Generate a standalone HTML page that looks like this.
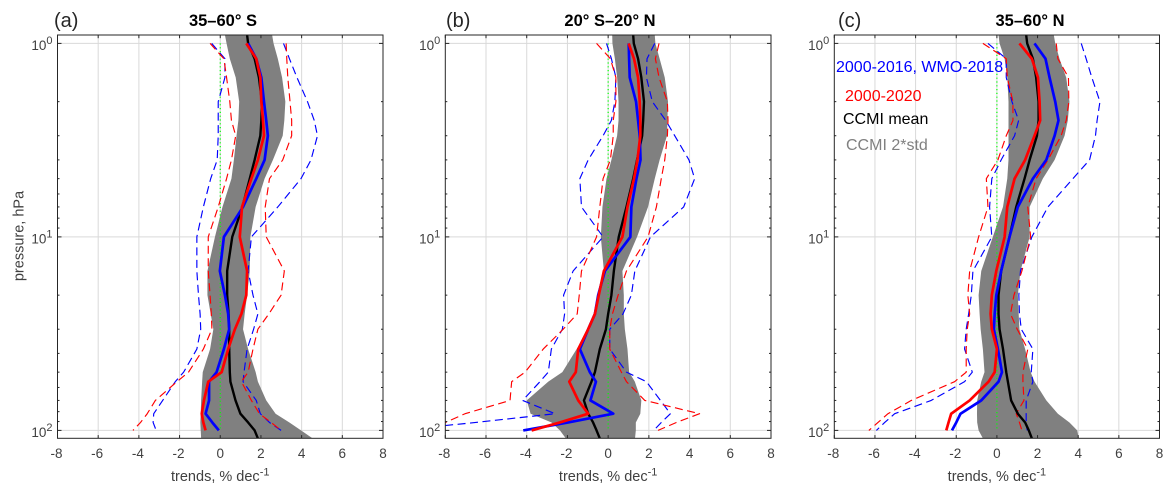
<!DOCTYPE html>
<html lang="en">
<head>
<meta charset="utf-8">
<title>Ozone trend profiles</title>
<style>
html,body{margin:0;padding:0;background:#fff;width:1175px;height:496px;overflow:hidden}
svg{display:block;font-family:"Liberation Sans",sans-serif}
</style>
</head>
<body>
<svg id="chart" xmlns="http://www.w3.org/2000/svg" width="1175" height="496" viewBox="0 0 1175 496"></svg>
<script>
// Shared axis values
const levels = [1,1.2,1.5,2,2.5,3,4,5,7,10,15,20,25,30,38,50,56,70,82,91,100];
const bandLevels = [0.905,1,1.2,1.5,2,2.5,3,4,5,7,10,15,20,25,30,38,50,56,70,82,91,100,110];
const xTicks = [-8,-6,-4,-2,0,2,4,6,8];
const yTickExponents = [0,1,2];
const zeroLine = [0,0];
const zeroLineLevels = [1,100];

// Panel (a) 35-60 S
const aBandLow = [.23,.31,.47,.76,.93,.89,.80,.67,.55,.11,-.26,-.63,-.63,-.47,-.34,-.50,-.86,-.89,-.94,-.96,-.98,-.96,-.94];
const aBandHigh = [2.55,2.62,2.83,3.04,3.20,3.15,3.07,2.59,2.18,1.74,1.48,1.45,1.32,1.20,1.12,1.37,1.74,1.85,2.26,2.72,3.40,3.97,4.54];
const aMean = [1.32,1.37,1.69,1.90,2.05,2.02,1.97,1.69,1.45,1.09,.59,.34,.34,.41,.44,.44,.47,.50,.75,.99,1.37,1.69,1.85];
const aRed = [1.28,1.77,1.97,2.02,2.10,2.15,1.85,1.53,1.07,.96,1.32,1.28,1.04,.72,.39,.07,-.59,-.80,-.91,-.83,-.72];
const aBlue = [1.37,1.77,2.02,2.15,2.26,2.34,2.18,1.77,1.12,.18,-.02,.23,.39,.44,.18,-.18,-.55,-.55,-.72,-.39,-.07];
const aRedLow = [-.50,.18,.31,.47,.55,.76,.55,.31,-.10,-.59,-.59,-.50,-.44,-.41,-.83,-1.56,-2.13,-3.19,-3.59,-3.92,-4.29];
const aRedHigh = [3.24,3.27,3.32,3.43,3.51,3.51,3.07,2.42,2.21,2.26,3.15,2.99,2.39,1.85,1.61,1.37,1.04,1.53,1.93,2.50,2.99];
const aBlueLow = [-.42,.23,.23,-.10,-.10,-.10,-.15,-.47,-.83,-1.15,-1.15,-1.07,-.99,-.96,-1.15,-1.80,-2.21,-2.83,-3.27,-3.30,-3.15];
const aBlueHigh = [3.11,3.40,3.77,4.29,4.62,4.78,4.46,3.97,2.83,1.53,1.37,1.61,1.85,1.64,1.32,1.17,1.12,1.77,1.97,2.42,2.99];

// Panel (b) 20 S-20 N
const bBandLow = [.20,.21,.33,.44,.51,.51,.44,.16,-.08,-.28,-.36,-.21,-.49,-.70,-.90,-1.55,-2.25,-2.94,-4.0,-3.81,-2.78,-2.37,-2.08];
const bBandHigh = [2.29,2.32,2.53,2.78,2.94,2.91,2.89,2.53,2.29,1.96,1.42,.70,.77,.77,.82,.95,1.03,1.31,1.63,1.58,1.36,1.36,1.32];
const bMean = [1.23,1.26,1.47,1.63,1.76,1.72,1.67,1.42,1.23,.90,.52,.28,.16,0,-.11,-.41,-.65,-.82,-1.19,-.98,-.74,-.57,-.41];
const bRed = [1.01,1.27,1.47,1.55,1.58,1.58,1.44,1.27,.95,.70,-.21,-.46,-.65,-.98,-1.47,-1.59,-1.91,-1.47,-.98,-2.37,-3.76];
const bBlue = [1.01,1.03,1.06,1.37,1.47,1.55,1.59,1.39,1.14,1.09,-.16,-.49,-.65,-.98,-1.39,-.90,-.60,-.87,.25,-1.96,-4.17];
const bRedLow = [-.57,.11,.38,.38,.25,.25,.11,-.25,-.41,-.57,-1.31,-1.42,-1.52,-2.21,-3.19,-4.08,-4.74,-4.82,-7.03,-8.0,-9.5];
const bRedHigh = [2.50,2.32,2.50,2.91,2.94,2.91,2.78,2.61,2.37,1.96,.90,.49,.21,.08,.08,.65,.90,1.80,4.49,3.35,2.45];
const bBlueLow = [-.08,.16,.38,.33,.16,-.25,-.98,-1.39,-1.31,-.25,-1.72,-2.19,-2.14,-2.25,-2.79,-2.94,-3.35,-4.20,-2.61,-6.5,-10.4];
const bBlueHigh = [2.29,1.91,1.88,2.17,2.83,3.27,3.97,4.25,3.71,2.08,1.31,1.14,.73,.08,.08,.90,1.88,2.57,3.06,2.61,2.24];

// Panel (c) 35-60 N
const cBandLow = [.08,.13,.38,.51,.57,.57,.57,.57,.51,.30,-.20,-.77,-.90,-.85,-.80,-.69,-.61,-.77,-.97,-.98,-.97,-.90,-.69];
const cBandHigh = [2.80,2.87,3.08,3.41,3.57,3.49,3.33,2.84,2.26,1.61,1.61,1.16,1.03,1.07,1.11,1.39,1.66,1.85,2.43,3.0,3.57,3.95,4.03];
const cMean = [1.44,1.49,1.77,1.93,2.05,2.05,1.97,1.61,1.36,.95,.62,.21,.08,.08,.13,.30,.46,.54,.70,1.03,1.39,1.57,1.72];
const cRed = [1.11,1.72,2.02,2.10,2.13,1.85,1.39,.87,.51,.38,-.03,-.25,-.31,-.25,0,-.11,-.41,-1.34,-2.25,-2.38,-2.49];
const cBlue = [1.85,2.39,2.59,2.87,3.03,2.84,2.43,1.77,1.03,.62,.21,-.03,-.11,-.15,.05,.25,.08,-.77,-1.79,-2.00,-2.21];
const cRedLow = [-.69,.46,.51,.79,.79,.46,.05,-.52,-.44,-.90,-1.34,-1.43,-1.34,-1.46,-1.51,-1.51,-2.08,-4.21,-5.36,-5.85,-6.30];
const cRedHigh = [2.92,3.00,3.52,3.54,3.41,3.16,2.51,1.93,1.52,1.66,1.23,.84,.67,1.00,1.52,1.28,1.28,1.33,.95,1.11,1.23];
const cBlueLow = [-.44,.46,.46,.74,1.07,.87,.21,-.25,-.36,-.25,-1.18,-1.26,-1.39,-1.51,-1.59,-1.21,-1.59,-3.23,-5.03,-5.52,-5.93];
const cBlueHigh = [4.15,4.39,4.67,5.07,4.93,4.85,4.56,3.74,2.51,1.72,1.16,1.08,1.11,1.20,1.77,1.69,1.77,1.44,1.44,1.44,1.49];

const panelLetters = ['(a)','(b)','(c)'];
const panelTitles = ['35\u201360\u00b0 S','20\u00b0 S\u201320\u00b0 N','35\u201360\u00b0 N'];
const legendLabels = ['2000-2016, WMO-2018','2000-2020','CCMI mean','CCMI 2*std'];

const NS = 'http://www.w3.org/2000/svg';
const svg = document.getElementById('chart');
const TOP = 35, BOTTOM = 438.3, Y0 = 43.4, DECADE = 193.5;
const INK = '#262626', LABEL = '#404040';
const panelKeys = ['a','b','c'];
const frames = [
 {left:57.5,right:383,letterX:54,titleX:223},
 {left:445.3,right:771,letterX:446,titleX:610},
 {left:834.3,right:1159.5,letterX:838,titleX:1030}
];
const panelData = [
 {bl:aBandLow,bh:aBandHigh,m:aMean,r:aRed,b:aBlue,rl:aRedLow,rh:aRedHigh,bll:aBlueLow,bhh:aBlueHigh},
 {bl:bBandLow,bh:bBandHigh,m:bMean,r:bRed,b:bBlue,rl:bRedLow,rh:bRedHigh,bll:bBlueLow,bhh:bBlueHigh},
 {bl:cBandLow,bh:cBandHigh,m:cMean,r:cRed,b:cBlue,rl:cRedLow,rh:cRedHigh,bll:cBlueLow,bhh:cBlueHigh}
];

function yScale(p){ return Y0 + Math.log10(p) * DECADE; }
function make(tag, parent, props){
  const el = document.createElementNS(NS, tag);
  for (const k in props) el.setAttribute(k, props[k]);
  parent.appendChild(el);
  return el;
}
function linePath(xs, ps, sx){
  return xs.map(function(v,i){ return (i ? 'L' : 'M') + sx(v).toFixed(2) + ' ' + yScale(ps[i]).toFixed(2); }).join('');
}

panelKeys.forEach(function(key, idx){
  const f = frames[idx];
  const d = panelData[idx];
  const sx = function(v){ return f.left + (v + 8) / 16 * (f.right - f.left); };
  const g = make('g', svg, {});
  
  

  const defs = make('defs', g, {});
  const cp = make('clipPath', defs, {id:'clip-' + key});
  make('rect', cp, {x:f.left, y:TOP, width:f.right - f.left, height:BOTTOM - TOP});

  // grid
  const grid = make('g', g, {stroke:'#d9d9d9','stroke-width':1});
  
  
  xTicks.slice(1,-1).forEach(function(t){
    make('line', grid, {x1:sx(t), x2:sx(t), y1:TOP, y2:BOTTOM});
  });
  yTickExponents.forEach(function(e){
    const y = yScale(Math.pow(10,e));
    make('line', grid, {x1:f.left, x2:f.right, y1:y, y2:y});
  });

  const plot = make('g', g, {'clip-path':'url(#clip-' + key + ')', fill:'none','stroke-linejoin':'round'});
  
  

  // std band
  const lowPts = d.bl.map(function(v,i){ return sx(v).toFixed(2) + ',' + yScale(bandLevels[i]).toFixed(2); });
  const highPts = d.bh.map(function(v,i){ return sx(v).toFixed(2) + ',' + yScale(bandLevels[i]).toFixed(2); }).reverse();
  const band = make('polygon', plot, {points:lowPts.concat(highPts).join(' '), fill:'#808080', stroke:'none'});
  
  

  // zero line
  const zero = make('path', plot, {d:linePath(zeroLine, zeroLineLevels, sx), stroke:'#00ff00','stroke-width':1.2,'stroke-dasharray':'1.2 2.6'});
  
  

  // dashed uncertainty
  const dash1 = make('path', plot, {d:linePath(d.bll, levels, sx), stroke:'#0000ff','stroke-width':1.15,'stroke-dasharray':'8 4.5'});
  
  
  const dash2 = make('path', plot, {d:linePath(d.bhh, levels, sx), stroke:'#0000ff','stroke-width':1.15,'stroke-dasharray':'8 4.5'});
  
  
  const dash3 = make('path', plot, {d:linePath(d.rl, levels, sx), stroke:'#ff0000','stroke-width':1.15,'stroke-dasharray':'8 4.5'});
  
  
  const dash4 = make('path', plot, {d:linePath(d.rh, levels, sx), stroke:'#ff0000','stroke-width':1.15,'stroke-dasharray':'8 4.5'});
  
  

  // solid series
  const mean = make('path', plot, {d:linePath(d.m, bandLevels, sx), stroke:'#000','stroke-width':2.4});
  
  
  const blue = make('path', plot, {d:linePath(d.b, levels, sx), stroke:'#0000ff','stroke-width':2.7});
  
  
  const red = make('path', plot, {d:linePath(d.r, levels, sx), stroke:'#ff0000','stroke-width':2.7});
  
  

  // frame
  const box = make('rect', g, {x:f.left, y:TOP, width:f.right - f.left, height:BOTTOM - TOP, fill:'none', stroke:INK,'stroke-width':1});
  
  

  // x ticks
  const xAxis = make('g', g, {});
  
  
  xTicks.forEach(function(t){
    make('line', xAxis, {x1:sx(t), x2:sx(t), y1:BOTTOM, y2:BOTTOM - 3.2, stroke:INK,'stroke-width':1});
    make('line', xAxis, {x1:sx(t), x2:sx(t), y1:TOP, y2:TOP + 3.2, stroke:INK,'stroke-width':1});
    const lab = make('text', xAxis, {x:sx(t) - (t < 0 ? 1 : 0), y:458, 'text-anchor':'middle','font-size':13.5, fill:LABEL});
    lab.textContent = String(t);
    
    
  });
  const xTitle = make('text', xAxis, {x:(f.left + f.right) / 2, y:481, 'text-anchor':'middle','font-size':14.5, fill:LABEL});
  
  
  xTitle.appendChild(document.createTextNode('trends, % dec'));
  const sup = make('tspan', xTitle, {dy:-5.5,'font-size':11});
  sup.textContent = '-1';

  // y ticks
  const yAxis = make('g', g, {});
  
  
  yTickExponents.forEach(function(e){
    const y = yScale(Math.pow(10,e));
    make('line', yAxis, {x1:f.left, x2:f.left + 4, y1:y, y2:y, stroke:INK,'stroke-width':1});
    make('line', yAxis, {x1:f.right, x2:f.right - 4, y1:y, y2:y, stroke:INK,'stroke-width':1});
    const lab = make('text', yAxis, {x:f.left - 5, y:y + 6.5, 'text-anchor':'end','font-size':13.5, fill:LABEL});
    
    
    lab.appendChild(document.createTextNode('10'));
    const s = make('tspan', lab, {dy:-6,'font-size':11});
    s.textContent = String(e);
    if (e < 2) {
      [2,3,4,5,6,7,8,9].forEach(function(m){
        const ym = yScale(m * Math.pow(10,e));
        make('line', yAxis, {x1:f.left, x2:f.left + 2, y1:ym, y2:ym, stroke:INK,'stroke-width':1});
        make('line', yAxis, {x1:f.right, x2:f.right - 2, y1:ym, y2:ym, stroke:INK,'stroke-width':1});
      });
    }
  });

  // titles
  const letter = make('text', g, {x:f.letterX, y:27, 'font-size':20, fill:INK});
  letter.textContent = panelLetters[idx];
  
  
  const title = make('text', g, {x:f.titleX, y:26, 'text-anchor':'middle','font-size':16.5,'font-weight':'bold', fill:'#000'});
  title.textContent = panelTitles[idx];
  
  
});

// y-axis title (first panel only)
const yTitle = make('text', svg, {transform:'translate(23.5 236) rotate(-90)','text-anchor':'middle','font-size':14.5, fill:LABEL});
yTitle.textContent = 'pressure, hPa';



// legend in panel c
const legend = make('g', svg, {'font-size':16});


const legendA = make('text', legend, {x:836, y:72, fill:'#0000ff'});
legendA.textContent = legendLabels[0];


const legendB = make('text', legend, {x:845, y:101, fill:'#ff0000'});
legendB.textContent = legendLabels[1];


const legendC = make('text', legend, {x:843, y:124, fill:'#000'});
legendC.textContent = legendLabels[2];


const legendD = make('text', legend, {x:846, y:150, fill:'#808080'});
legendD.textContent = legendLabels[3];


</script>
</body>
</html>
